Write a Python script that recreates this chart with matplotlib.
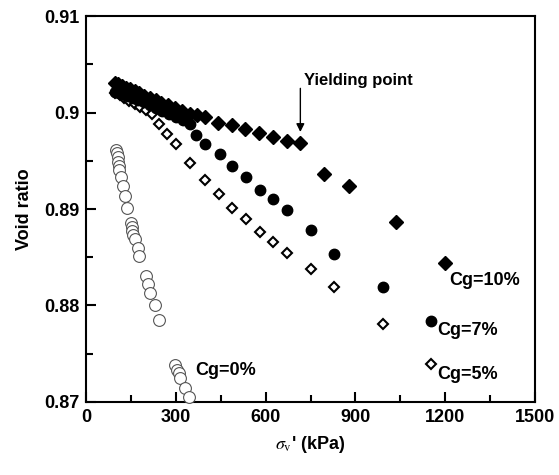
import matplotlib
matplotlib.use("Agg")
import matplotlib.pyplot as plt

plt.rcParams['font.family'] = ['Liberation Sans', 'DejaVu Sans']
plt.rcParams['mathtext.fontset'] = 'stix'

# Cg = 10 % (filled diamonds)
x10 = [97, 108, 120, 133, 147, 162, 178, 195, 213, 232, 252, 273, 297, 322, 348, 372, 398,
       442, 487, 532, 579, 623, 671, 716, 794, 877, 1037, 1198]
y10 = [0.9031, 0.9030, 0.9028, 0.9026, 0.9024, 0.9022, 0.9020, 0.9017, 0.9015, 0.9013, 0.9010,
       0.9008, 0.9005, 0.9002, 0.8999, 0.8997, 0.8995,
       0.8989, 0.8987, 0.8983, 0.8979, 0.8975, 0.8971, 0.8968, 0.8936, 0.8924, 0.8887, 0.8844]

# Cg = 7 % (filled circles)
x7 = [97, 110, 125, 140, 156, 173, 192, 212, 233, 255, 278, 302, 325, 348,
      368, 398, 446, 488, 535, 580, 623, 670, 751, 829, 992, 1154]
y7 = [0.9021, 0.9020, 0.9019, 0.9017, 0.9015, 0.9013, 0.9011, 0.9008, 0.9005, 0.9002, 0.8999,
      0.8995, 0.8992, 0.8988,
      0.8977, 0.8967, 0.8957, 0.8945, 0.8933, 0.8920, 0.8910, 0.8899, 0.8878, 0.8853, 0.8819, 0.8784]

# Cg = 5 % (open diamonds)
x5 = [97, 112, 128, 145, 162, 180, 200, 220, 245, 270, 299, 348, 397, 445, 489, 534,
      580, 623, 671, 751, 829, 992, 1154]
y5 = [0.9020, 0.9018, 0.9015, 0.9012, 0.9009, 0.9006, 0.9003, 0.8999, 0.8988, 0.8978, 0.8967,
      0.8948, 0.8930, 0.8916, 0.8901, 0.8890,
      0.8876, 0.8866, 0.8854, 0.8838, 0.8819, 0.8781, 0.8739]

# Cg = 0 % (open circles)
x0 = [100, 103, 105, 107, 109, 111, 116, 123, 130, 136, 151, 153, 155, 158, 163, 172, 178,
      201, 206, 214, 231, 244, 298, 303, 309, 314, 331, 345]
y0 = [0.8961, 0.8958, 0.8954, 0.8949, 0.8945, 0.8940, 0.8933, 0.8924, 0.8913, 0.8901, 0.8885,
      0.8881, 0.8877, 0.8873, 0.8869, 0.8860, 0.8851, 0.8830, 0.8822, 0.8813, 0.8800, 0.8785,
      0.8738, 0.8733, 0.8730, 0.8725, 0.8714, 0.8705]

xticks = [0, 300, 600, 900, 1200, 1500]
yticks = [0.87, 0.88, 0.89, 0.90, 0.91]
ytick_labels = ['0.87', '0.88', '0.89', '0.9', '0.91']

fig = plt.figure(figsize=(5.59, 4.75), dpi=100)
ax = fig.add_axes([0.154, 0.154, 0.803, 0.812])

ax.plot(x0, y0, linestyle='none', marker='o', ms=8.5, mfc='white', mec='#555555', mew=0.8,
        clip_on=False, zorder=3)
ax.plot(x5, y5, linestyle='none', marker='D', ms=5.5, mfc='white', mec='black', mew=1.5,
        zorder=3)
ax.plot(x7, y7, linestyle='none', marker='o', ms=7.5, mfc='black', mec='black', zorder=4)
ax.plot(x10, y10, linestyle='none', marker='D', ms=7, mfc='black', mec='black', zorder=5)

ax.set_xlim(0, 1500)
ax.set_ylim(0.87, 0.91)
ax.set_xticks(xticks)
ax.set_xticks([150, 450, 750, 1050, 1350], minor=True)
ax.set_yticks(yticks)
ax.set_yticklabels(ytick_labels)
ax.set_yticks([0.875, 0.885, 0.895, 0.905], minor=True)
ax.tick_params(which='both', direction='in', top=False, right=False, width=1.5)
ax.tick_params(which='major', length=7, labelsize=13, pad=5)
ax.tick_params(which='minor', length=5)
for lab in ax.get_xticklabels() + ax.get_yticklabels():
    lab.set_fontweight('bold')
for s in ax.spines.values():
    s.set_linewidth(1.5)

ax.set_ylabel('Void ratio', fontsize=13, fontweight='bold', labelpad=8)
ax.set_xlabel(r"$\sigma_{\mathrm{v}}$' (kPa)", fontsize=13, fontweight='bold', labelpad=6)

ax.annotate('', xy=(716, 0.8977), xytext=(716, 0.9028),
            arrowprops=dict(arrowstyle='-|>', color='black', lw=1, mutation_scale=12))
ax.text(728, 0.9033, 'Yielding point', fontsize=12, fontweight='bold', va='center', ha='left')

ax.text(1215, 0.8826, 'Cg=10%', fontsize=13, fontweight='bold', va='center', ha='left')
ax.text(1175, 0.8774, 'Cg=7%', fontsize=13, fontweight='bold', va='center', ha='left')
ax.text(1175, 0.8728, 'Cg=5%', fontsize=13, fontweight='bold', va='center', ha='left')
ax.text(365, 0.8733, 'Cg=0%', fontsize=13, fontweight='bold', va='center', ha='left')

fig.savefig('out.png', dpi=100)
